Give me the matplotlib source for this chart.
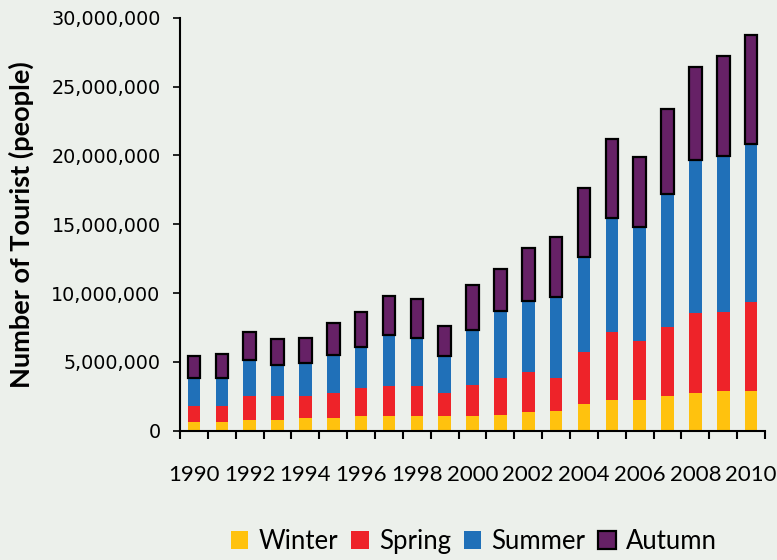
import numpy as np
import matplotlib
matplotlib.use("Agg")
import matplotlib.pyplot as plt
from matplotlib.ticker import FuncFormatter

# valeurs (en millions de personnes)
years = list(range(1990, 2011))
winter = [0.60, 0.66, 0.80, 0.80, 0.95, 0.95, 1.09, 1.09, 1.09, 1.09, 1.09,
          1.16, 1.38, 1.46, 1.97, 2.26, 2.26, 2.55, 2.77, 2.91, 2.91]
spring = [1.82, 1.82, 2.50, 2.55, 2.55, 2.70, 3.08, 3.28, 3.23, 2.70, 3.35,
          3.86, 4.25, 3.81, 5.70, 7.16, 6.48, 7.50, 8.52, 8.62, 9.34]
summer = [3.81, 3.81, 5.15, 4.75, 4.89, 5.53, 6.07, 6.97, 6.74, 5.41, 7.35,
          8.67, 9.42, 9.71, 12.62, 15.49, 14.81, 17.22, 19.70, 19.96, 20.87]
total = [5.44, 5.60, 7.18, 6.66, 6.77, 7.83, 8.61, 9.77, 9.56, 7.58, 10.56,
         11.75, 13.30, 14.08, 17.62, 21.18, 19.87, 23.40, 26.41, 27.21, 28.77]

seasons = ["Winter", "Spring", "Summer", "Autumn"]
colors = ["#FFC20E", "#EE2329", "#2070B8", "#662166"]
bg = "#ECF0EB"

w = np.array(winter) * 1e6
sp = np.array(spring) * 1e6
su = np.array(summer) * 1e6
tot = np.array(total) * 1e6

plt.rcParams['font.family'] = ['Lato', 'DejaVu Sans']

fig = plt.figure(figsize=(7.77, 5.6), dpi=100, facecolor=bg)
ax = fig.add_axes([0.2317, 0.231, 0.7529, 0.737], facecolor=bg)

x = np.arange(len(years))
bw = 0.45
ax.bar(x, w, bw, color=colors[0], label=seasons[0], zorder=2)
ax.bar(x, sp - w, bw, bottom=w, color=colors[1], label=seasons[1], zorder=2)
ax.bar(x, su - sp, bw, bottom=sp, color=colors[2], label=seasons[2], zorder=2)
ax.bar(x, tot - su, bw, bottom=su, color=colors[3], edgecolor="black",
       linewidth=1.6, label=seasons[3], zorder=3)

ax.set_xlim(-0.5, len(years) - 0.5)
ax.set_ylim(0, 30e6)
ax.set_yticks(np.arange(0, 30e6 + 1, 5e6))
ax.yaxis.set_major_formatter(FuncFormatter(lambda v, p: f"{int(v):,}"))
for lab in ax.get_yticklabels():
    lab.set_family('DejaVu Sans')

# étiquettes une année sur deux, graduations entre les barres
ax.set_xticks(x[::2])
ax.set_xticklabels([str(y) for y in years[::2]], fontsize=16)
ax.set_xticks(np.arange(-0.5, len(years), 1.0), minor=True)
ax.tick_params(axis='x', which='major', length=0, pad=25)
ax.tick_params(axis='x', which='minor', direction='out', length=6, width=1.5)
ax.tick_params(axis='y', direction='out', length=5, width=1.2, labelsize=13.8, pad=9)

for s in ['top', 'right']:
    ax.spines[s].set_visible(False)
for s in ['left', 'bottom']:
    ax.spines[s].set_linewidth(1.5)

ax.set_ylabel("Number of Tourist (people)", fontsize=19.5, fontweight='bold')
ax.yaxis.set_label_coords(-0.25, 0.5)

fig.legend(loc='center', bbox_to_anchor=(0.61, 0.033), ncol=4, frameon=False,
           fontsize=18.5, handlelength=0.68, handleheight=0.68, handletextpad=0.4,
           columnspacing=0.5)

fig.savefig("out.png", dpi=100, facecolor=bg)
